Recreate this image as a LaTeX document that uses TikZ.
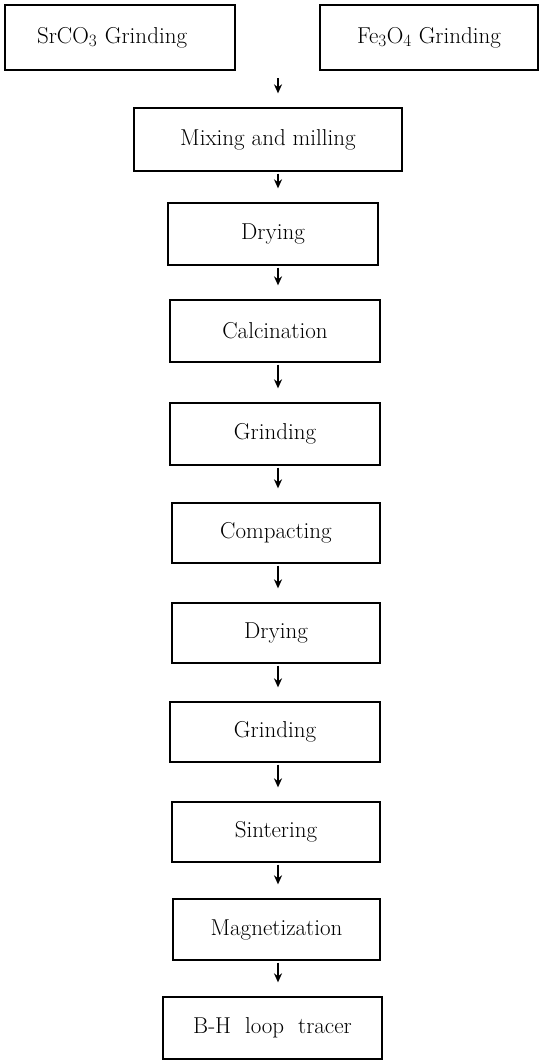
\documentclass[tikz,border=0pt]{standalone}
\usetikzlibrary{arrows.meta}
\begin{document}
\begin{tikzpicture}[x=1pt,y=-1pt,
  box/.style={draw,line width=1.3pt,inner sep=0pt,minimum height=62pt,
    font=\fontsize{23}{27}\selectfont},
  arr/.style={line width=1.5pt,-{Stealth[length=9pt,width=8pt]},
    shorten <=2pt,shorten >=14pt}]
\useasboundingbox (0,0) rectangle (539,1061);
\node[box,minimum width=230pt,minimum height=65pt,text width=210pt,align=left] (src) at (120,37.5) {\hspace*{22pt}SrCO$_3$ Grinding};
\node[box,minimum width=218pt,minimum height=65pt] (fe) at (429,37.5) {Fe$_3$O$_4$ Grinding};
\coordinate (ax) at (278,0);
\coordinate (top) at (278,78);
\node[box,minimum width=268pt,minimum height=63pt] (mix) at (268,139.5) {Mixing and milling};
\node[box,minimum width=210pt] (dry1) at (273,234) {Drying};
\node[box,minimum width=210pt] (calc) at (275,331) {Calcination};
\node[box,minimum width=210pt] (gr1) at (275,434) {Grinding};
\node[box,minimum width=208pt,minimum height=60pt] (comp) at (276,533) {Compacting};
\node[box,minimum width=208pt,minimum height=60pt] (dry2) at (276,633) {Drying};
\node[box,minimum width=210pt,minimum height=60pt] (gr2) at (275,732) {Grinding};
\node[box,minimum width=208pt,minimum height=60pt] (sint) at (276,832) {Sintering};
\node[box,minimum width=207pt,minimum height=61pt] (mag) at (276.5,929.5) {Magnetization};
\node[box,minimum width=219pt,minimum height=62pt] (bh) at (272.5,1028) {B-H\ \ loop\ \ tracer};
\draw[arr,shorten <=0pt] (top) -- (mix.north -| ax);
\draw[arr] (mix.south -| ax) -- (dry1.north -| ax);
\draw[arr] (dry1.south -| ax) -- (calc.north -| ax);
\draw[arr] (calc.south -| ax) -- (gr1.north -| ax);
\draw[arr] (gr1.south -| ax) -- (comp.north -| ax);
\draw[arr] (comp.south -| ax) -- (dry2.north -| ax);
\draw[arr] (dry2.south -| ax) -- (gr2.north -| ax);
\draw[arr] (gr2.south -| ax) -- (sint.north -| ax);
\draw[arr] (sint.south -| ax) -- (mag.north -| ax);
\draw[arr] (mag.south -| ax) -- (bh.north -| ax);
\end{tikzpicture}
\end{document}
